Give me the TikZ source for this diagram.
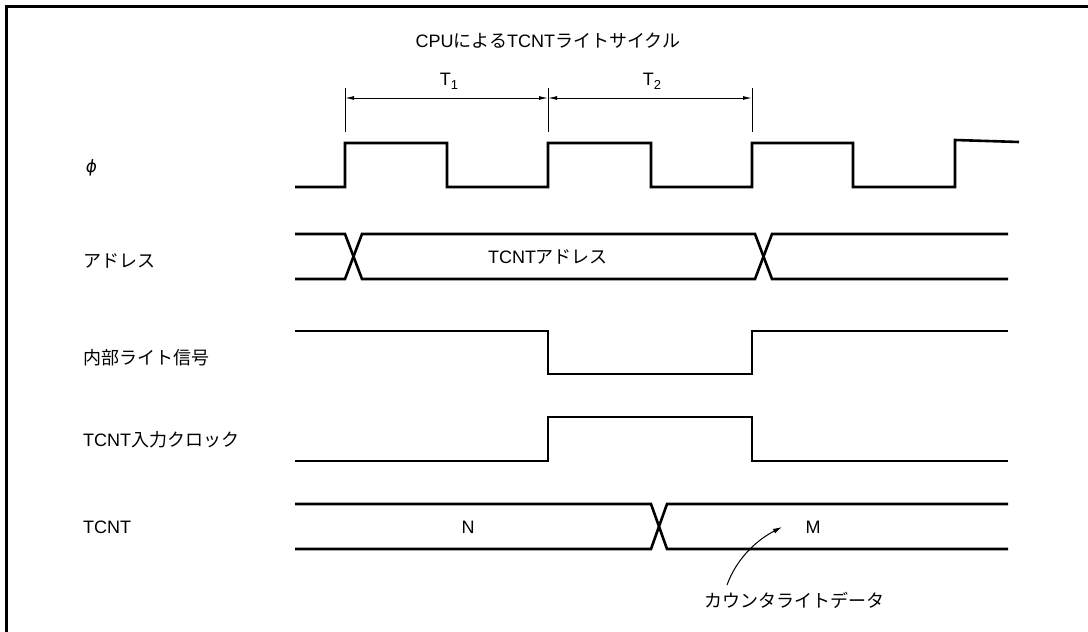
\documentclass[tikz,border=0pt]{standalone}
\usepackage{fontspec}
\setmainfont{Liberation Sans}
\newfontfamily\jp{Noto Sans CJK JP}
\newfontfamily\dvs{DejaVu Sans}[FakeSlant=0.15]
\usetikzlibrary{arrows.meta}
\newcommand{\subidx}[1]{\raisebox{-0.45ex}{\fontsize{13}{15}\selectfont #1}}
\begin{document}
\begin{tikzpicture}[x=1pt,y=-1pt,
  wave/.style={line width=2.6pt, line join=miter},
  thin/.style={line width=1pt},
  txt/.style={font=\fontsize{18}{21}\selectfont, inner sep=0pt},
  lbl/.style={txt, anchor=west},
  dim/.style={thin, {Latex[length=9pt,width=4pt]}-{Latex[length=9pt,width=4pt]}}]
\useasboundingbox (0,0) rectangle (1088,632);
\draw[line width=3pt] (6,632) -- (6,6) -- (1088,6);

% title and period markers
\node[txt] (title) at (548,41) {CPU{\jp による}TCNT{\jp ライトサイクル}};
\coordinate (a1) at (345,88); \coordinate (b1) at (345,132);
\coordinate (a2) at (548,88); \coordinate (b2) at (548,132);
\coordinate (a3) at (752,88); \coordinate (b3) at (752,132);
\draw[thin] (a1) -- (b1) (a2) -- (b2) (a3) -- (b3);
\coordinate (d1) at (345,98); \coordinate (d2) at (548,98); \coordinate (d3) at (752,98);
\draw[dim] (d1) -- (d2);
\draw[dim] (d2) -- (d3);
\node[txt] (t1) at (449,81) {T\subidx{1}};
\node[txt] (t2) at (652,81) {T\subidx{2}};

% signal labels
\node[lbl] (lphi) at (85,168) {\dvs\fontsize{17}{20}\selectfont ϕ};
\node[lbl] (ladr) at (83,261) {{\jp アドレス}};
\node[lbl] (lwr) at (83,358) {{\jp 内部ライト信号}};
\node[lbl] (lclk) at (83,440) {TCNT{\jp 入力クロック}};
\node[lbl] (ltcnt) at (83,527) {TCNT};

% phi
\draw[wave] (295,187) -- (345,187) -- (345,143) -- (447,143) -- (447,187) -- (548,187)
  -- (548,143) -- (651,143) -- (651,187) -- (752,187) -- (752,143) -- (853,143)
  -- (853,187) -- (955,187) -- (955,140) -- (1019,142);

% address bus
\draw[wave] (295,234) -- (345,234) -- (362,279) -- (755,279) -- (772,234) -- (1008,234);
\draw[wave] (295,279) -- (345,279) -- (362,234) -- (755,234) -- (772,279) -- (1008,279);
\node[txt] (adrval) at (548,257) {TCNT{\jp アドレス}};

% internal write signal
\draw[wave] (295,331) -- (548,331) -- (548,374) -- (752,374) -- (752,331) -- (1008,331);

% TCNT input clock
\draw[wave] (295,461) -- (548,461) -- (548,417) -- (752,417) -- (752,461) -- (1008,461);

% TCNT bus
\draw[wave] (295,504) -- (651,504) -- (667,549) -- (1008,549);
\draw[wave] (295,549) -- (651,549) -- (667,504) -- (1008,504);
\node[txt] (nval) at (468,527) {N};
\node[txt] (mval) at (813,527) {M};

% annotation
\node[txt] (ann) at (794,600) {{\jp カウンタライトデータ}};
\coordinate (tip) at (782,527);
\draw[thin, -{Latex[length=9pt,width=5pt]}] (727,585) .. controls (736,560) and (755,541) .. (tip);
\end{tikzpicture}
\end{document}
